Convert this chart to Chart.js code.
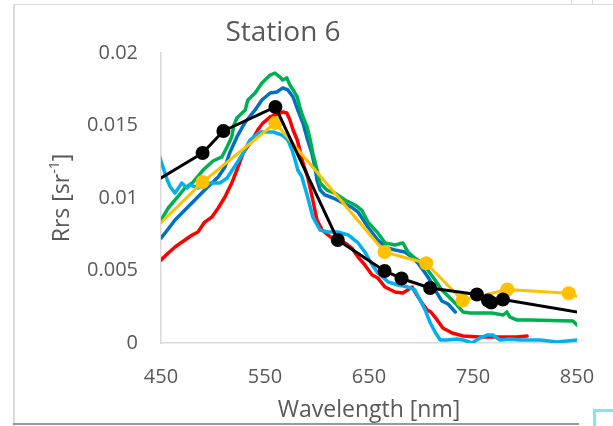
<!DOCTYPE html>
<html>
<head>
<meta charset="utf-8">
<script src="https://cdn.jsdelivr.net/npm/chart.js@4.4.1/dist/chart.umd.min.js"></script>
<style>
    html, body { margin: 0; padding: 0; background: #fff; }
    body { width: 613px; height: 426px; position: relative; overflow: hidden; }
    #grafico { position: absolute; left: -29px; top: 0; }
    .moldura { position: absolute; background: #d9d9d9; }
    #canto { position: absolute; left: 593px; top: 409px; width: 20px; height: 17px;
             border-top: 3px solid #7fe6f7; border-left: 3px solid #7fe6f7; box-sizing: border-box; }
</style>
</head>
<body>
<canvas id="grafico" width="624" height="426"></canvas>
<div class="moldura" style="left:13px;top:4px;width:2px;height:422px"></div>
<div class="moldura" style="left:13px;top:4px;width:600px;height:1px"></div>
<div class="moldura" style="left:571px;top:0;width:1px;height:4px"></div>
<div class="moldura" style="left:592px;top:0;width:1px;height:4px"></div>
<div class="moldura" style="left:13px;top:423px;width:566px;height:2px;background:#8a9bb3"></div>
<div id="canto"></div>

<script>
// Rrs medido na estação 6 (sr^-1)

// espectros hiperespectrais
const wlVermelho = [450, 457, 463.5, 473, 480, 485.5, 492, 499, 505, 511.5,
    518, 523, 529, 537.5, 543, 548, 555, 567, 571, 574,
    577, 581, 583.5, 586.5, 591, 596, 600, 605, 610.5, 617,
    627, 633.5, 639.5, 646, 653, 658.5, 665.5, 675, 682.5, 691.5,
    696, 701, 706, 709.5, 715.5, 721, 730, 740.5, 756.5, 773,
    792, 802];
const rrsVermelho = [0.00572, 0.00621, 0.00662, 0.00710, 0.00745, 0.00766, 0.00834, 0.00869, 0.00931, 0.01007,
    0.01103, 0.01193, 0.01310, 0.01400, 0.01469, 0.01517, 0.01559, 0.01593, 0.01586, 0.01538,
    0.01469, 0.01400, 0.01331, 0.01241, 0.01145, 0.00986, 0.00848, 0.00779, 0.00745, 0.00710,
    0.00690, 0.00655, 0.00593, 0.00538, 0.00469, 0.00448, 0.00386, 0.00352, 0.00345, 0.00386,
    0.00331, 0.00276, 0.00228, 0.00214, 0.00159, 0.00103, 0.00069, 0.00048, 0.00041, 0.00041,
    0.00041, 0.00048];

const wlAzul = [450, 454, 463.5, 473, 482.5, 492, 505, 511.5, 516, 523,
    531, 540.5, 547, 555, 561.5, 567, 572, 577, 581.5, 586.5,
    591, 595, 598, 600, 603, 607.5, 615.5, 625, 634.5, 639.5,
    649, 658.5, 667.5, 675, 684.5, 691.5, 697, 704, 708.5, 713.5,
    720, 726, 733];
const rrsAzul = [0.00724, 0.00759, 0.00848, 0.00917, 0.00986, 0.01055, 0.01145, 0.01214, 0.01310, 0.01421,
    0.01524, 0.01607, 0.01676, 0.01724, 0.01731, 0.01759, 0.01745, 0.01697, 0.01607, 0.01517,
    0.01400, 0.01310, 0.01214, 0.01124, 0.01055, 0.01021, 0.01000, 0.00966, 0.00931, 0.00903,
    0.00800, 0.00710, 0.00655, 0.00641, 0.00628, 0.00593, 0.00552, 0.00483, 0.00434, 0.00366,
    0.00290, 0.00269, 0.00214];

const wlVerde = [450, 457, 466, 473, 480, 490.5, 500, 508.5, 513.5, 518,
    520, 523, 526, 531, 533.5, 540.5, 547, 555, 559.5, 564.5,
    567, 571, 574, 577, 581, 583.5, 586.5, 590.5, 593.5, 596,
    600, 603, 609.5, 617, 627, 636.5, 643, 649, 658.5, 665.5,
    675, 682.5, 687.5, 694, 701, 706.5, 713.5, 720, 726, 734.5,
    740.5, 747, 756.5, 768, 779, 782.5, 785.5, 792, 805, 846,
    850];
const rrsVerde = [0.00848, 0.00931, 0.01007, 0.01069, 0.01103, 0.01193, 0.01255, 0.01283, 0.01352, 0.01421,
    0.01500, 0.01552, 0.01572, 0.01607, 0.01676, 0.01724, 0.01793, 0.01848, 0.01862, 0.01834,
    0.01814, 0.01828, 0.01779, 0.01745, 0.01697, 0.01628, 0.01559, 0.01490, 0.01400, 0.01310,
    0.01193, 0.01103, 0.01055, 0.01034, 0.00986, 0.00952, 0.00917, 0.00834, 0.00759, 0.00690,
    0.00676, 0.00690, 0.00628, 0.00586, 0.00552, 0.00503, 0.00434, 0.00366, 0.00324, 0.00262,
    0.00214, 0.00207, 0.00207, 0.00207, 0.00193, 0.00214, 0.00179, 0.00159, 0.00159, 0.00152,
    0.00124];

const wlCiano = [446, 450, 456, 459, 463.5, 470, 475, 478, 485.5, 497,
    506.5, 513.5, 523, 529, 535.5, 545, 558, 566.5, 572, 576,
    579, 581.5, 585.5, 591, 596, 603, 610.5, 620, 630, 639.5,
    646, 653, 658.5, 668.5, 678, 687.5, 694, 699, 704, 708.5,
    713.5, 718.5, 725, 734.5, 740.5, 749, 756.5, 763.5, 769, 776,
    785.5, 795, 805, 814.5, 831, 850];
const rrsCiano = [0.01350, 0.01255, 0.01124, 0.01076, 0.01034, 0.01103, 0.01069, 0.01090, 0.01069, 0.01103,
    0.01103, 0.01138, 0.01241, 0.01310, 0.01400, 0.01455, 0.01455, 0.01434, 0.01400, 0.01331,
    0.01262, 0.01193, 0.01145, 0.01007, 0.00869, 0.00779, 0.00766, 0.00766, 0.00745, 0.00690,
    0.00628, 0.00538, 0.00483, 0.00421, 0.00400, 0.00386, 0.00366, 0.00297, 0.00228, 0.00145,
    0.00076, 0.00021, 0.00021, 0.00028, 0.00021, 0.00000, 0.00034, 0.00055, 0.00055, 0.00021,
    0.00028, 0.00021, 0.00021, 0.00021, 0.00007, 0.00021];

// bandas dos sensores (com marcador)
const wlPreto = [442.5, 490, 510, 560, 620, 665, 681.25, 708.75, 753.75, 764.375, 767.5, 778.75, 865];
const rrsPreto = [0.01106, 0.01310, 0.01462, 0.01628, 0.00710, 0.00497, 0.00445, 0.00379, 0.00334, 0.00293, 0.00279, 0.00300, 0.00196];

const wlLaranja = [443, 490, 560, 665, 705, 740, 783, 842, 865];
const rrsLaranja = [0.00780, 0.01110, 0.01517, 0.00628, 0.00550, 0.00293, 0.00369, 0.00343, 0.00280];

// eixos
const ticksX = [450, 550, 650, 750, 850];
const ticksY = [0, 0.005, 0.01, 0.015, 0.02];

const FONTE = '"Open Sans", "Noto Sans", sans-serif';
const COR_TEXTO = '#595959';
const COR_EIXO = '#d9d9d9';

function pontos(wl, rrs) {
    return wl.map((x, i) => ({ x: x, y: rrs[i] }));
}

function serie(nome, wl, rrs, cor, raio, espessura) {
    return {
        label: nome,
        data: pontos(wl, rrs),
        borderColor: cor,
        backgroundColor: cor,
        borderWidth: espessura,
        borderJoinStyle: 'round',
        borderCapStyle: 'round',
        tension: 0,
        pointRadius: raio,
        pointHoverRadius: raio,
        pointBorderWidth: 0,
        pointBackgroundColor: cor
    };
}

// título do eixo Y com o expoente -1 sobrescrito
const tituloEixoY = {
    id: 'tituloEixoY',
    afterDraw(chart) {
        const { ctx, chartArea } = chart;
        const cx = chartArea.left - 99;
        const cy = (chartArea.top + chartArea.bottom) / 2;
        const fonteNormal = `23px ${FONTE}`;
        const fonteSup = `14px ${FONTE}`;

        ctx.save();
        ctx.translate(cx, cy);
        ctx.rotate(-Math.PI / 2);
        ctx.fillStyle = COR_TEXTO;
        ctx.textBaseline = 'middle';
        ctx.textAlign = 'left';

        ctx.font = fonteNormal;
        const w1 = ctx.measureText('Rrs [sr').width;
        const w3 = ctx.measureText(']').width;
        ctx.font = fonteSup;
        const w2 = ctx.measureText('-1').width;

        let x = -(w1 + w2 + w3) / 2;
        ctx.font = fonteNormal;
        ctx.fillText('Rrs [sr', x, 0);
        x += w1;
        ctx.font = fonteSup;
        ctx.fillText('-1', x, -7);
        x += w2;
        ctx.font = fonteNormal;
        ctx.fillText(']', x, 0);
        ctx.restore();
    }
};

const ctx = document.getElementById('grafico').getContext('2d');

new Chart(ctx, {
    type: 'line',
    data: {
        // o primeiro dataset fica por cima
        datasets: [
            serie('Sensor A', wlPreto, rrsPreto, '#000000', 7, 3),
            serie('Sensor B', wlLaranja, rrsLaranja, '#ffc000', 7, 3),
            serie('Perfil 4', wlCiano, rrsCiano, '#00b0f0', 0, 3.5),
            serie('Perfil 3', wlVerde, rrsVerde, '#00b050', 0, 3.5),
            serie('Perfil 2', wlAzul, rrsAzul, '#0070c0', 0, 3.5),
            serie('Perfil 1', wlVermelho, rrsVermelho, '#ff0000', 0, 3.5)
        ]
    },
    options: {
        responsive: false,
        animation: false,
        events: [],
        layout: { padding: 0 },
        plugins: {
            legend: { display: false },
            tooltip: { enabled: false },
            title: {
                display: true,
                text: 'Station 6',
                color: COR_TEXTO,
                font: { family: FONTE, size: 28, weight: 'normal' },
                padding: { top: 16, bottom: 3.4 }
            }
        },
        scales: {
            x: {
                type: 'linear',
                min: ticksX[0],
                max: ticksX[ticksX.length - 1],
                afterBuildTicks: (scale) => { scale.ticks = ticksX.map(v => ({ value: v })); },
                afterFit: (scale) => {
                    scale.height = 83;
                    scale.paddingLeft = 0;
                    scale.paddingRight = 18;
                },
                grid: { display: false, drawTicks: false },
                border: { display: true, color: COR_EIXO, width: 1.5 },
                ticks: {
                    color: COR_TEXTO,
                    padding: 22,
                    maxRotation: 0,
                    font: { family: FONTE, size: 20 }
                },
                title: {
                    display: true,
                    text: 'Wavelength [nm]',
                    color: COR_TEXTO,
                    font: { family: FONTE, size: 23 },
                    padding: { top: 0, bottom: 2 }
                }
            },
            y: {
                min: ticksY[0],
                max: ticksY[ticksY.length - 1],
                afterBuildTicks: (scale) => { scale.ticks = ticksY.map(v => ({ value: v })); },
                afterFit: (scale) => { scale.width = 190; },
                grid: { display: false, drawTicks: false },
                border: { display: true, color: COR_EIXO, width: 1.5 },
                ticks: {
                    color: COR_TEXTO,
                    padding: 23,
                    font: { family: FONTE, size: 20 },
                    callback: (v) => String(Number(v.toFixed(4)))
                }
            }
        }
    },
    plugins: [tituloEixoY]
});
</script>
</body>
</html>
